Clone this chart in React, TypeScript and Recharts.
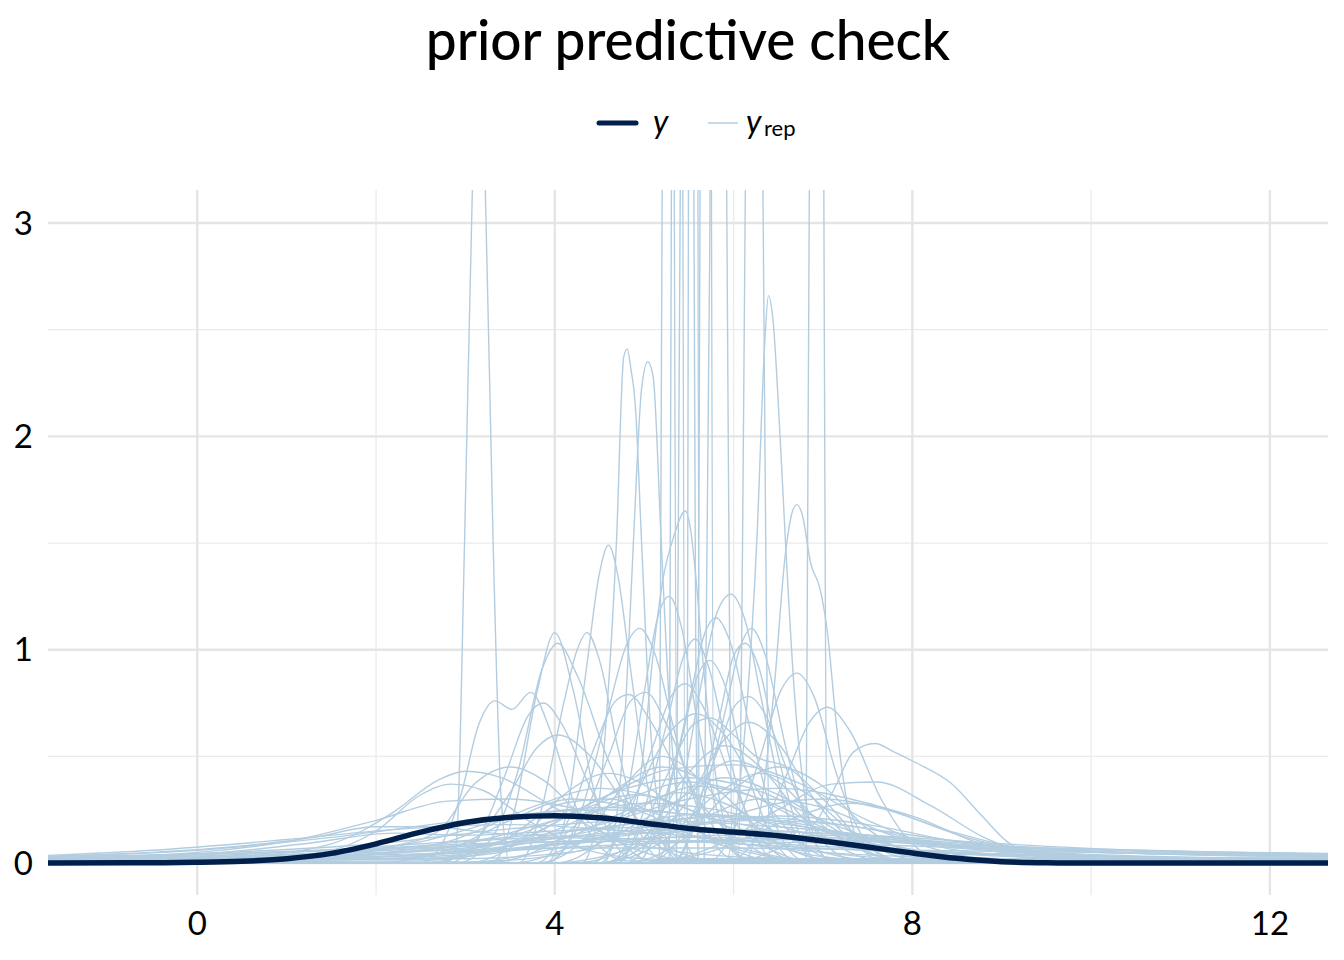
import { LineChart, Line, XAxis, YAxis, CartesianGrid } from "recharts";

type Pt = [number, number];

// axis ticks
const xTicks = [0, 4, 8, 12];
const yTicks = [0, 1, 2, 3];
const xMinor = [2, 6, 10];
const yMinor = [0.5, 1.5, 2.5];

// observed density (dark line)
const yObserved: Pt[] = [
  [-1.7, 0], [-0.5, 0.001], [0, 0.003], [0.5, 0.008], [1, 0.02], [1.5, 0.045], [2, 0.09],
  [2.5, 0.145], [3, 0.19], [3.5, 0.215], [4, 0.222], [4.5, 0.212], [5, 0.188], [5.5, 0.162],
  [6, 0.145], [6.5, 0.128], [7, 0.103], [7.5, 0.075], [8, 0.047], [8.5, 0.022], [9, 0.006],
  [9.5, 0.001], [10, 0], [12.7, 0],
];

// replicated densities that shoot past the top of the panel
const yRepSpikes: Pt[][] = [
  [[-1.7, 0], [2.8, 0], [2.9, 0.1], [2.99, 1.5], [3.08, 3.2], [3.15, 3.9], [3.22, 3.2], [3.31, 1.5], [3.4, 0.3], [3.5, 0], [12.7, 0]],
  [[-1.7, 0], [5.17, 0], [5.22, 5.6], [5.27, 14], [5.32, 5.6], [5.37, 0], [12.7, 0]],
  [[-1.7, 0], [5.28, 0], [5.325, 6.4], [5.37, 16], [5.415, 6.4], [5.46, 0], [12.7, 0]],
  [[-1.7, 0], [5.36, 0], [5.42, 4.8], [5.48, 12], [5.54, 4.8], [5.6, 0], [12.7, 0]],
  [[-1.7, 0], [5.48, 0], [5.515, 8], [5.55, 20], [5.585, 8], [5.62, 0], [12.7, 0]],
  [[-1.7, 0], [5.6, 0], [5.645, 6.4], [5.69, 16], [5.735, 6.4], [5.78, 0], [12.7, 0]],
  [[-1.7, 0], [5.67, 0], [5.75, 4], [5.83, 10], [5.91, 4], [5.99, 0], [12.7, 0]],
  [[-1.7, 0], [6.05, 0], [6.14, 3.6], [6.23, 9], [6.32, 3.6], [6.41, 0], [12.7, 0]],
  [[-1.7, 0], [6.81, 0], [6.87, 5.6], [6.93, 14], [6.99, 5.6], [7.05, 0], [12.7, 0]],
];

// narrower replicated densities peaking inside the panel
const yRepPeaks: Pt[][] = [
  [[-1.7, 0], [4.3, 0], [4.45, 0.15], [4.58, 0.7], [4.69, 1.51], [4.77, 2.37], [4.81, 2.41], [4.85, 2.32], [4.9, 2.15], [4.97, 1.51], [5.06, 0.7], [5.2, 0.18], [5.4, 0.02], [12.7, 0]],
  [[-1.7, 0], [4.55, 0], [4.7, 0.25], [4.8, 0.8], [4.88, 1.51], [4.97, 2.22], [5.04, 2.35], [5.1, 2.28], [5.19, 1.51], [5.28, 0.75], [5.4, 0.2], [5.6, 0.02], [12.7, 0]],
  [[-1.7, 0], [5.9, 0], [6.05, 0.3], [6.16, 0.8], [6.26, 1.51], [6.35, 2.45], [6.39, 2.66], [6.44, 2.55], [6.52, 2.0], [6.58, 1.51], [6.68, 0.8], [6.85, 0.2], [7.05, 0.02], [12.7, 0]],
  [[-1.7, 0], [6.1, 0], [6.3, 0.25], [6.45, 0.8], [6.58, 1.45], [6.66, 1.65], [6.71, 1.68], [6.77, 1.63], [6.86, 1.41], [6.97, 1.28], [7.05, 1.08], [7.15, 0.65], [7.3, 0.22], [7.5, 0.04], [7.7, 0], [12.7, 0]],
  [[-1.7, 0], [4.6, 0], [4.85, 0.15], [5.0, 0.55], [5.1, 0.98], [5.21, 1.33], [5.33, 1.53], [5.46, 1.65], [5.52, 1.56], [5.58, 1.33], [5.65, 0.98], [5.77, 0.5], [5.95, 0.12], [6.2, 0], [12.7, 0]],
  [[-1.7, 0], [3.9, 0], [4.15, 0.28], [4.35, 0.9], [4.5, 1.36], [4.6, 1.49], [4.7, 1.36], [4.85, 0.9], [5.0, 0.45], [5.2, 0.1], [5.45, 0], [12.7, 0]],
  [[-1.7, 0], [3.3, 0], [3.55, 0.25], [3.8, 0.8], [4.0, 1.08], [4.2, 0.82], [4.45, 0.32], [4.75, 0.05], [5, 0], [12.7, 0]],
  [[-1.7, 0], [2.9, 0], [3.3, 0.12], [3.6, 0.45], [3.85, 0.9], [4.03, 1.03], [4.25, 0.88], [4.6, 0.48], [5.0, 0.15], [5.4, 0.03], [5.8, 0], [12.7, 0]],
  [[-1.7, 0], [3.6, 0], [3.85, 0.25], [4.1, 0.75], [4.25, 1.0], [4.36, 1.08], [4.5, 0.95], [4.7, 0.55], [4.95, 0.15], [5.2, 0.02], [12.7, 0]],
  [[-1.7, 0], [3.9, 0], [4.3, 0.25], [4.6, 0.72], [4.8, 1.02], [4.95, 1.1], [5.12, 0.98], [5.35, 0.6], [5.65, 0.2], [6.0, 0.02], [12.7, 0]],
  [[-1.7, 0], [4.5, 0], [4.8, 0.3], [5.0, 0.8], [5.15, 1.15], [5.28, 1.25], [5.42, 1.1], [5.6, 0.65], [5.85, 0.2], [6.1, 0.02], [12.7, 0]],
  [[-1.7, 0], [5.1, 0], [5.4, 0.3], [5.62, 0.8], [5.82, 1.18], [5.97, 1.26], [6.12, 1.15], [6.32, 0.75], [6.55, 0.3], [6.8, 0.05], [7, 0], [12.7, 0]],
  [[-1.7, 0], [4.9, 0], [5.25, 0.3], [5.5, 0.75], [5.68, 1.08], [5.8, 1.15], [5.95, 1.05], [6.2, 0.6], [6.5, 0.15], [6.8, 0.01], [12.7, 0]],
  [[-1.7, 0], [5.3, 0], [5.65, 0.28], [5.9, 0.7], [6.08, 1.02], [6.2, 1.1], [6.35, 0.98], [6.58, 0.55], [6.85, 0.15], [7.1, 0.01], [12.7, 0]],
  [[-1.7, 0], [4.7, 0], [5.0, 0.25], [5.25, 0.65], [5.45, 0.98], [5.57, 1.05], [5.72, 0.92], [5.95, 0.5], [6.25, 0.12], [6.5, 0], [12.7, 0]],
  [[-1.7, 0], [5.3, 0], [5.6, 0.25], [5.85, 0.7], [6.0, 0.97], [6.13, 1.03], [6.28, 0.92], [6.5, 0.5], [6.75, 0.12], [7.0, 0], [12.7, 0]],
  [[-1.7, 0], [5.7, 0], [6.05, 0.2], [6.3, 0.5], [6.52, 0.8], [6.71, 0.89], [6.9, 0.78], [7.15, 0.42], [7.45, 0.12], [7.8, 0.01], [12.7, 0]],
  [[-1.7, 0], [5.9, 0], [6.3, 0.15], [6.6, 0.42], [6.85, 0.66], [7.05, 0.73], [7.3, 0.62], [7.65, 0.3], [8.0, 0.09], [8.4, 0.01], [12.7, 0]],
  [[-1.7, 0], [6.0, 0], [6.4, 0.05], [6.7, 0.11], [6.95, 0.21], [7.14, 0.36], [7.34, 0.52], [7.58, 0.56], [7.8, 0.52], [8.04, 0.47], [8.43, 0.375], [8.78, 0.22], [9.06, 0.1], [9.4, 0.03], [9.9, 0.005], [12.7, 0]],
  [[-1.7, 0], [2.5, 0], [2.75, 0.1], [2.95, 0.32], [3.15, 0.65], [3.33, 0.76], [3.52, 0.72], [3.73, 0.8], [3.95, 0.62], [4.2, 0.3], [4.5, 0.08], [4.8, 0.01], [12.7, 0]],
  [[-1.7, 0], [2.8, 0], [3.15, 0.12], [3.45, 0.42], [3.7, 0.69], [3.87, 0.75], [4.08, 0.65], [4.4, 0.35], [4.75, 0.1], [5.1, 0.01], [12.7, 0]],
  [[-1.7, 0], [2.7, 0], [3.1, 0.1], [3.5, 0.33], [3.8, 0.54], [4.04, 0.6], [4.4, 0.5], [4.85, 0.24], [5.3, 0.07], [5.8, 0.01], [12.7, 0]],
  [[-1.7, 0], [3.9, 0], [4.3, 0.2], [4.6, 0.5], [4.85, 0.76], [5.02, 0.8], [5.25, 0.65], [5.6, 0.3], [5.95, 0.07], [6.3, 0], [12.7, 0]],
  [[-1.7, 0], [3.8, 0], [4.15, 0.2], [4.45, 0.55], [4.68, 0.76], [4.83, 0.79], [5.05, 0.68], [5.35, 0.45], [5.8, 0.2], [6.3, 0.05], [6.8, 0], [12.7, 0]],
  [[-1.7, 0], [4.4, 0], [4.8, 0.2], [5.1, 0.55], [5.3, 0.78], [5.46, 0.84], [5.65, 0.74], [5.95, 0.42], [6.3, 0.12], [6.7, 0.01], [12.7, 0]],
  [[-1.7, 0], [4.0, 0], [4.5, 0.1], [4.9, 0.32], [5.3, 0.62], [5.58, 0.7], [5.9, 0.6], [6.3, 0.32], [6.8, 0.08], [7.3, 0], [12.7, 0]],
  [[-1.7, 0], [4.6, 0], [5.0, 0.18], [5.3, 0.45], [5.55, 0.65], [5.74, 0.68], [6.0, 0.6], [6.25, 0.5], [6.6, 0.45], [7.0, 0.3], [7.5, 0.08], [8, 0], [12.7, 0]],
  [[-1.7, 0], [5.0, 0], [5.45, 0.15], [5.8, 0.5], [6.02, 0.74], [6.17, 0.78], [6.35, 0.7], [6.65, 0.38], [7.0, 0.1], [7.4, 0.01], [12.7, 0]],
  [[-1.7, 0], [4.8, 0], [5.15, 0.2], [5.4, 0.55], [5.6, 0.88], [5.73, 0.95], [5.88, 0.86], [6.1, 0.5], [6.4, 0.15], [6.7, 0.01], [12.7, 0]],
  [[-1.7, 0], [4.5, 0], [5.0, 0.08], [5.5, 0.3], [5.9, 0.58], [6.17, 0.66], [6.5, 0.56], [6.9, 0.3], [7.4, 0.08], [7.9, 0.01], [12.7, 0]],
  [[-1.7, 0], [3.8, 0], [4.3, 0.1], [4.75, 0.35], [5.2, 0.5], [5.65, 0.38], [6.1, 0.15], [6.6, 0.03], [7, 0], [12.7, 0]],
  [[-1.7, 0], [4.8, 0], [5.4, 0.1], [5.95, 0.33], [6.5, 0.45], [7.0, 0.36], [7.5, 0.16], [8.0, 0.04], [8.5, 0], [12.7, 0]],
  [[-1.7, 0], [3.0, 0], [3.6, 0.1], [4.1, 0.32], [4.6, 0.42], [5.1, 0.34], [5.6, 0.15], [6.2, 0.03], [6.6, 0], [12.7, 0]],
  [[-1.7, 0], [4.5, 0], [5.0, 0.12], [5.45, 0.4], [5.9, 0.55], [6.3, 0.45], [6.8, 0.2], [7.3, 0.05], [7.8, 0], [12.7, 0]],
  [[-1.7, 0], [5.0, 0], [5.8, 0.08], [6.5, 0.25], [7.1, 0.37], [7.6, 0.38], [8.2, 0.27], [8.8, 0.12], [9.4, 0.03], [10, 0], [12.7, 0]],
  [[-1.7, 0.005], [1.5, 0.03], [2.2, 0.08], [2.7, 0.15], [3.1, 0.37], [3.51, 0.45], [3.9, 0.38], [4.3, 0.22], [4.8, 0.08], [5.4, 0.02], [7, 0], [12.7, 0]],
  [[-1.7, 0.01], [0.5, 0.02], [1.4, 0.05], [2.0, 0.15], [2.5, 0.32], [2.84, 0.37], [3.2, 0.34], [3.7, 0.2], [4.3, 0.07], [5.0, 0.02], [7, 0], [12.7, 0]],
];

// mid-height replicated densities filling the body of the plot
const yRepMid: Pt[][] = [
  [[-1.7, 0], [3.5, 0], [4.2, 0.08], [4.9, 0.25], [5.4, 0.33], [5.9, 0.28], [6.5, 0.14], [7.2, 0.03], [8, 0], [12.7, 0]],
  [[-1.7, 0.005], [2.5, 0.02], [3.8, 0.12], [4.8, 0.3], [5.5, 0.38], [6.1, 0.33], [7, 0.15], [8, 0.04], [9, 0.005], [12.7, 0]],
  [[-1.7, 0], [4, 0], [4.8, 0.06], [5.6, 0.2], [6.3, 0.3], [7, 0.26], [7.7, 0.14], [8.5, 0.04], [9.3, 0], [12.7, 0]],
  [[-1.7, 0], [2, 0], [2.8, 0.06], [3.5, 0.2], [4.2, 0.3], [4.9, 0.25], [5.6, 0.12], [6.4, 0.03], [7.2, 0], [12.7, 0]],
  [[-1.7, 0.01], [2, 0.02], [3.5, 0.06], [5, 0.14], [6.2, 0.2], [7.2, 0.18], [8.2, 0.1], [9.2, 0.04], [10.5, 0.015], [12.7, 0.01]],
  [[-1.7, 0], [4.5, 0], [5.2, 0.1], [5.8, 0.32], [6.3, 0.42], [6.8, 0.33], [7.4, 0.12], [8, 0.02], [12.7, 0]],
  [[-1.7, 0], [3.2, 0], [4, 0.1], [4.7, 0.35], [5.2, 0.45], [5.8, 0.35], [6.4, 0.12], [7, 0.02], [12.7, 0]],
  [[-1.7, 0.01], [1, 0.02], [2.5, 0.06], [4, 0.12], [5.5, 0.16], [7, 0.14], [8.5, 0.08], [10, 0.03], [12.7, 0.015]],
  [[-1.7, 0], [5, 0], [5.8, 0.06], [6.6, 0.2], [7.3, 0.28], [8, 0.22], [8.7, 0.1], [9.4, 0.02], [12.7, 0]],
  [[-1.7, 0], [2.5, 0], [3.4, 0.1], [4.1, 0.28], [4.6, 0.3], [5.2, 0.22], [6, 0.08], [7, 0.01], [12.7, 0]],
  [[-1.7, 0.02], [0, 0.03], [2, 0.05], [4, 0.07], [6, 0.07], [8, 0.06], [10, 0.05], [12.7, 0.04]],
  [[-1.7, 0], [4.2, 0], [5, 0.12], [5.6, 0.38], [6.0, 0.48], [6.5, 0.38], [7.1, 0.14], [7.8, 0.02], [12.7, 0]],
  [[-1.7, 0], [3, 0], [3.8, 0.05], [4.8, 0.15], [5.8, 0.22], [6.8, 0.18], [7.8, 0.08], [8.8, 0.02], [12.7, 0]],
  [[-1.7, 0.01], [1.5, 0.02], [3, 0.05], [4.5, 0.1], [6, 0.13], [7.5, 0.11], [9, 0.06], [10.5, 0.03], [12.7, 0.02]],
];

// wide, low replicated densities with long tails
const yRepBroad: Pt[][] = [
  [[-1.7, 0.01], [0.5, 0.03], [1.5, 0.09], [2.2, 0.24], [2.7, 0.39], [3.0, 0.43], [3.4, 0.4], [4.0, 0.26], [4.8, 0.1], [6, 0.03], [8, 0.01], [12.7, 0]],
  [[-1.7, 0.02], [0, 0.05], [1, 0.1], [2, 0.2], [2.8, 0.29], [3.5, 0.3], [4.3, 0.25], [5.5, 0.13], [7, 0.05], [9, 0.02], [12.7, 0.01]],
  [[-1.7, 0.005], [2, 0.02], [3, 0.06], [4, 0.2], [4.8, 0.35], [5.5, 0.4], [6.2, 0.35], [7, 0.2], [8, 0.06], [9, 0.015], [12.7, 0.005]],
  [[-1.7, 0.01], [2, 0.03], [3.5, 0.1], [4.5, 0.3], [5.3, 0.44], [6.0, 0.46], [6.7, 0.38], [7.5, 0.2], [8.5, 0.06], [10, 0.015], [12.7, 0.005]],
  [[-1.7, 0.015], [1, 0.03], [3, 0.07], [4.5, 0.18], [5.5, 0.3], [6.5, 0.35], [7.5, 0.28], [8.5, 0.14], [9.5, 0.05], [11, 0.02], [12.7, 0.01]],
  [[-1.7, 0.03], [0, 0.06], [1.5, 0.12], [3, 0.2], [4.5, 0.25], [6, 0.21], [7.5, 0.13], [9, 0.07], [10.5, 0.045], [12.7, 0.025]],
  [[-1.7, 0.025], [0, 0.045], [2, 0.09], [3.5, 0.16], [5, 0.2], [6.5, 0.17], [8, 0.11], [9.5, 0.07], [11, 0.05], [12.7, 0.035]],
  [[-1.7, 0.02], [1, 0.04], [3, 0.08], [4.5, 0.13], [6, 0.15], [7.5, 0.13], [9, 0.09], [10.5, 0.06], [12.7, 0.045]],
  [[-1.7, 0.035], [-0.5, 0.06], [1, 0.11], [2.3, 0.16], [3.5, 0.18], [4.8, 0.15], [6.5, 0.09], [8.5, 0.05], [10.5, 0.03], [12.7, 0.02]],
  [[-1.7, 0.03], [1, 0.05], [3, 0.08], [5.5, 0.12], [7.5, 0.1], [9.5, 0.07], [12.7, 0.04]],
  [[-1.7, 0.005], [3, 0.02], [4.5, 0.07], [5.8, 0.2], [6.5, 0.28], [7.0, 0.3], [7.7, 0.25], [8.6, 0.12], [9.5, 0.04], [10.5, 0.01], [12.7, 0.005]],
  [[-1.7, 0.01], [1.5, 0.03], [3, 0.09], [4.2, 0.22], [5, 0.28], [5.8, 0.25], [6.8, 0.14], [8, 0.05], [9.5, 0.015], [12.7, 0.005]],
  [[-1.7, 0.015], [2, 0.03], [4, 0.09], [5.5, 0.18], [6.5, 0.22], [7.5, 0.18], [8.5, 0.1], [9.7, 0.04], [11, 0.02], [12.7, 0.012]],
  [[-1.7, 0.008], [1.5, 0.03], [2.8, 0.1], [3.8, 0.27], [4.5, 0.35], [5.2, 0.3], [6, 0.16], [7, 0.05], [8.5, 0.01], [12.7, 0]],
  [[-1.7, 0.03], [-0.5, 0.05], [0.5, 0.08], [1.3, 0.12], [2, 0.17], [2.6, 0.17], [3.3, 0.14], [4.5, 0.12], [6, 0.09], [8, 0.05], [10, 0.03], [12.7, 0.015]],
  [[-1.7, 0.02], [0, 0.04], [1.2, 0.09], [2.2, 0.14], [3, 0.13], [4, 0.15], [5.2, 0.17], [6.5, 0.12], [8, 0.06], [10, 0.025], [12.7, 0.01]],
  [[-1.7, 0.01], [2, 0.03], [3.5, 0.08], [4.8, 0.18], [5.6, 0.23], [6.4, 0.2], [7.4, 0.12], [8.5, 0.07], [9.8, 0.035], [11, 0.025], [12.7, 0.02]],
  [[-1.7, 0.02], [0.5, 0.04], [2.5, 0.09], [4, 0.14], [5, 0.19], [6, 0.22], [7, 0.19], [8, 0.13], [9, 0.08], [10.5, 0.045], [12.7, 0.03]],
  [[-1.7, 0.005], [2.5, 0.02], [4, 0.1], [5, 0.28], [5.6, 0.36], [6.3, 0.3], [7.1, 0.15], [8, 0.05], [9, 0.01], [12.7, 0]],
  [[-1.7, 0.01], [1, 0.03], [2.5, 0.1], [3.6, 0.22], [4.6, 0.26], [5.6, 0.22], [6.8, 0.12], [8, 0.06], [9.5, 0.025], [12.7, 0.01]],
  [[-1.7, 0.012], [1, 0.025], [3, 0.05], [5, 0.09], [6.8, 0.11], [8.3, 0.09], [9.8, 0.06], [11.2, 0.04], [12.7, 0.035]],
  [[-1.7, 0.02], [0, 0.04], [2, 0.07], [4, 0.1], [6, 0.1], [8, 0.08], [10, 0.05], [12.7, 0.03]],
  [[-1.7, 0], [3, 0.005], [4.2, 0.05], [5.2, 0.25], [5.9, 0.4], [6.5, 0.32], [7.3, 0.12], [8.2, 0.02], [12.7, 0]],
  [[-1.7, 0], [2.5, 0.01], [3.5, 0.08], [4.3, 0.25], [4.9, 0.32], [5.5, 0.25], [6.3, 0.1], [7.3, 0.02], [12.7, 0]],
  [[-1.7, 0.015], [0.5, 0.03], [2, 0.06], [3, 0.1], [4, 0.12], [5, 0.1], [6, 0.11], [7, 0.13], [8, 0.1], [9.5, 0.05], [12.7, 0.015]],
];

const repColor = "#b3cde0";
const obsColor = "#011f4b";
const font = "Lato, 'Noto Sans', sans-serif";

const toRows = (pts: Pt[]) => pts.map(([x, y]) => ({ x, y }));

export default function App() {
  const reps = [...yRepBroad, ...yRepMid, ...yRepPeaks, ...yRepSpikes];
  return (
    <div style={{ position: "absolute", left: 0, top: 0, width: 1344, height: 960, background: "#fff", fontFamily: font }}>
      <div style={{ position: "absolute", top: 6, left: 0, width: 1376, textAlign: "center", fontSize: 55, fontWeight: 500, color: "#000" }}>
        prior predictive check
      </div>
      {/* legend */}
      <svg style={{ position: "absolute", left: 596, top: 113 }} width={44} height={20}>
        <line x1={3} y1={10} x2={40} y2={10} stroke={obsColor} strokeWidth={5} strokeLinecap="round" />
      </svg>
      <span style={{ position: "absolute", left: 653, top: 101, fontSize: 32, fontStyle: "italic", color: "#000" }}>y</span>
      <svg style={{ position: "absolute", left: 706, top: 113 }} width={34} height={20}>
        <line x1={2} y1={10} x2={32} y2={10} stroke={repColor} strokeWidth={1.5} />
      </svg>
      <span style={{ position: "absolute", left: 746, top: 101, fontSize: 32, fontStyle: "italic", color: "#000" }}>y</span>
      <span style={{ position: "absolute", left: 764, top: 114, fontSize: 22, color: "#000" }}>rep</span>
      <LineChart width={1344} height={960} margin={{ top: 190, right: 16, bottom: 0, left: 0 }}>
        <CartesianGrid horizontalValues={yMinor} verticalValues={xMinor} stroke="#ebebeb" strokeWidth={1.3} />
        <CartesianGrid horizontalValues={yTicks} verticalValues={xTicks} stroke="#e5e5e5" strokeWidth={2.4} />
        <XAxis
          type="number"
          dataKey="x"
          domain={[-1.67, 12.65]}
          allowDataOverflow
          ticks={xTicks}
          height={65}
          axisLine={false}
          tickLine={false}
          tickSize={6}
          tickMargin={11}
          tick={{ fill: "#000", fontSize: 33, fontFamily: font }}
        />
        <YAxis
          type="number"
          dataKey="y"
          domain={[-0.15, 3.155]}
          allowDataOverflow
          ticks={yTicks}
          width={48}
          axisLine={false}
          tickLine={false}
          tickSize={6}
          tickMargin={9}
          tick={{ fill: "#000", fontSize: 33, fontFamily: font }}
        />
        {reps.map((pts, i) => (
          <Line
            key={`rep-${i}`}
            data={toRows(pts)}
            dataKey="y"
            type="monotone"
            stroke={repColor}
            strokeWidth={1.4}
            dot={false}
            activeDot={false}
            isAnimationActive={false}
          />
        ))}
        <Line
          data={toRows(yObserved)}
          dataKey="y"
          type="monotone"
          stroke={obsColor}
          strokeWidth={5.5}
          dot={false}
          activeDot={false}
          isAnimationActive={false}
        />
      </LineChart>
    </div>
  );
}
